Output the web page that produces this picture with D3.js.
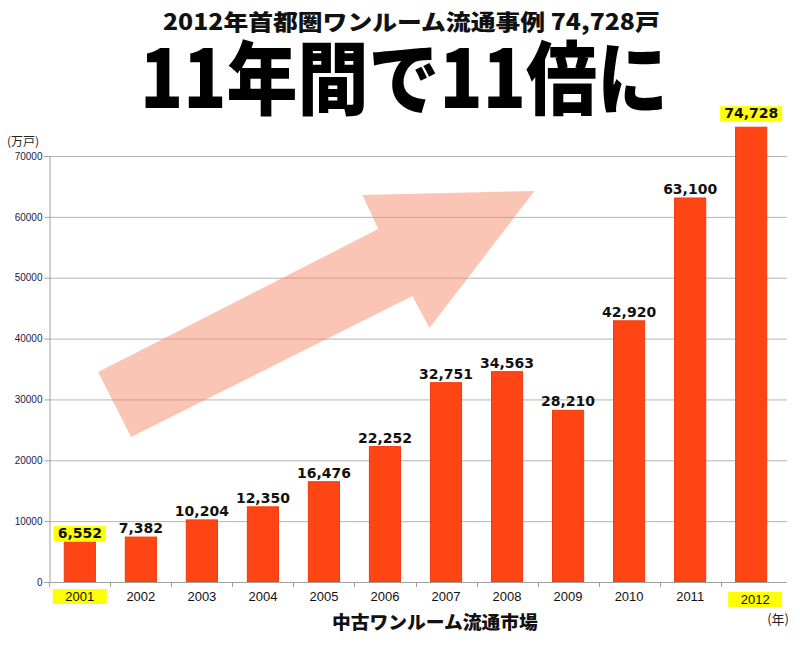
<!DOCTYPE html>
<html><head><meta charset="utf-8">
<script src="https://cdn.jsdelivr.net/npm/d3@7"></script>
<style>
html,body{margin:0;padding:0;background:#fff;}
svg{display:block;}
</style></head>
<body>
<svg id="chart" width="800" height="648"></svg>
<script>
// ---- data ----
const years = ["2001","2002","2003","2004","2005","2006","2007","2008","2009","2010","2011","2012"];
const values = [6552, 7382, 10204, 12350, 16476, 22252, 32751, 34563, 28210, 42920, 63100, 74728];
const valueLabels = ["6,552","7,382","10,204","12,350","16,476","22,252","32,751","34,563","28,210","42,920","63,100","74,728"];
const highlighted = ["2001","2012"];
const yTicks = [0, 10000, 20000, 30000, 40000, 50000, 60000, 70000];
const titleText = "2012年首都圏ワンルーム流通事例 74,728戸";
const headlineText = "11年間で11倍に";
const xAxisTitle = "中古ワンルーム流通市場";
const yUnit = "(万戸)";
const xUnit = "(年)";
// arrow annotation in data space: [category index, value]
const arrowPts = [[0.84,23830],[0.30,34500],[4.89,58000],[4.63,63590],[7.45,64250],[5.73,41740],[5.45,47000]];

// ---- layout ----
const svg = d3.select("#chart");
const plotLeft = 49, plotRight = 787, plotTop = 156, plotBottom = 582;

const x = d3.scaleBand().domain(years).range([plotLeft, 782]).paddingInner(0.49).paddingOuter(0.25);
const y = d3.scaleLinear().domain([0, 70000]).range([plotBottom, plotTop]);
const xi = d3.scaleLinear().domain([0, 1]).range([x(years[0]) + x.bandwidth()/2, x(years[1]) + x.bandwidth()/2]);

// fit a text horizontally to a target width by scaling (keeps bbox honest)
function fitText(sel, left, baseline, width) {
  const w = sel.node().getComputedTextLength();
  sel.attr("transform", `translate(${left},${baseline}) scale(${width / w},1)`);
}

// titles
const t1 = svg.append("text").attr("x", 0).attr("y", 0)
  .style("font-family", "'Noto Sans CJK JP', sans-serif").style("font-weight", 900)
  .style("font-size", "22px").attr("fill", "#111").text(titleText);
fitText(t1, 163, 30, 497);

const t2 = svg.append("text").attr("x", 0).attr("y", 0)
  .style("font-family", "'Noto Sans CJK JP', sans-serif").style("font-weight", 900)
  .style("font-size", "80px").attr("fill", "#000").text(headlineText);
fitText(t2, 140, 108, 528);

// gridlines
svg.append("g").selectAll("line").data(yTicks.filter(d => d > 0)).join("line")
  .attr("x1", plotLeft).attr("x2", plotRight)
  .attr("y1", d => y(d) + 0.5).attr("y2", d => y(d) + 0.5)
  .attr("stroke", "#b4b4b4").attr("stroke-width", 1);

// y axis
const yAxis = svg.append("g").attr("transform", `translate(${plotLeft + 0.5},0)`)
  .call(d3.axisLeft(y).tickValues(yTicks).tickFormat(d3.format("d")).tickSize(5).tickPadding(2));
yAxis.select(".domain").attr("stroke", "#a0a0a0");
yAxis.selectAll(".tick line").attr("stroke", "#a0a0a0");
yAxis.selectAll(".tick text").attr("fill", "#1a1a4a")
  .style("font-family", "'Liberation Sans', Arial, sans-serif").style("font-size", "10px");

// arrow annotation
svg.append("polygon")
  .attr("points", arrowPts.map(p => [xi(p[0]), y(p[1])].join(",")).join(" "))
  .attr("fill", "rgb(248,140,110)").attr("fill-opacity", 0.5);

// bars
svg.append("g").selectAll("rect").data(years).join("rect")
  .attr("x", d => x(d)).attr("width", x.bandwidth())
  .attr("y", (d, i) => y(values[i])).attr("height", (d, i) => plotBottom - y(values[i]))
  .attr("fill", "#ff4513").attr("stroke", "#f03a10").attr("stroke-width", 1);

// x axis line and ticks
svg.append("line").attr("x1", plotLeft).attr("x2", plotRight)
  .attr("y1", plotBottom + 0.5).attr("y2", plotBottom + 0.5).attr("stroke", "#a0a0a0");
const boundaries = years.map(d => x(d) - x.step() * x.paddingInner() / 2);
svg.append("g").selectAll("line").data(boundaries).join("line")
  .attr("x1", d => Math.round(d) + 0.5).attr("x2", d => Math.round(d) + 0.5)
  .attr("y1", plotBottom).attr("y2", plotBottom + 5).attr("stroke", "#a0a0a0");

// value labels
const vl = svg.append("g");
years.forEach((yr, i) => {
  const cx = x(yr) + x.bandwidth() / 2;
  const by = y(values[i]) - (yr === "2012" ? 9 : 4);
  const t = vl.append("text").attr("x", cx).attr("y", by).attr("text-anchor", "middle")
    .style("font-family", "'DejaVu Sans', sans-serif").style("font-weight", "bold")
    .style("font-size", "14px").attr("fill", "#111").text(valueLabels[i]);
  if (highlighted.includes(yr)) {
    const bb = t.node().getBBox();
    vl.insert("rect", () => t.node()).attr("x", bb.x - 4).attr("y", by - 12).attr("width", bb.width + 8).attr("height", 15).attr("fill", "#ffff00");
  }
});

// x tick labels
const xl = svg.append("g");
years.forEach((yr, i) => {
  const cx = x(yr) + x.bandwidth() / 2 + (i === years.length - 1 ? 4 : 0);
  const by = i === years.length - 1 ? 604 : 601;
  if (highlighted.includes(yr)) {
    xl.append("rect").attr("x", cx - 27).attr("y", by - 12).attr("width", 54).attr("height", 15).attr("fill", "#ffff00");
  }
  xl.append("text").attr("x", cx).attr("y", by).attr("text-anchor", "middle")
    .style("font-family", "'Liberation Sans', Arial, sans-serif").style("font-size", "13px")
    .attr("fill", "#111").text(yr);
});

// unit labels
svg.append("text").attr("x", 7).attr("y", 146)
  .style("font-family", "'Noto Sans CJK JP', sans-serif").style("font-size", "12px")
  .attr("fill", "#222").text(yUnit);
svg.append("text").attr("x", 789).attr("y", 624).attr("text-anchor", "end")
  .style("font-family", "'Noto Sans CJK JP', sans-serif").style("font-size", "13px")
  .attr("fill", "#222").text(xUnit);

// x axis title
const t3 = svg.append("text").attr("x", 0).attr("y", 0)
  .style("font-family", "'Noto Sans CJK JP', sans-serif").style("font-weight", 900)
  .style("font-size", "18px").attr("fill", "#111").text(xAxisTitle);
fitText(t3, 332, 629, 206);
</script>
</body></html>
